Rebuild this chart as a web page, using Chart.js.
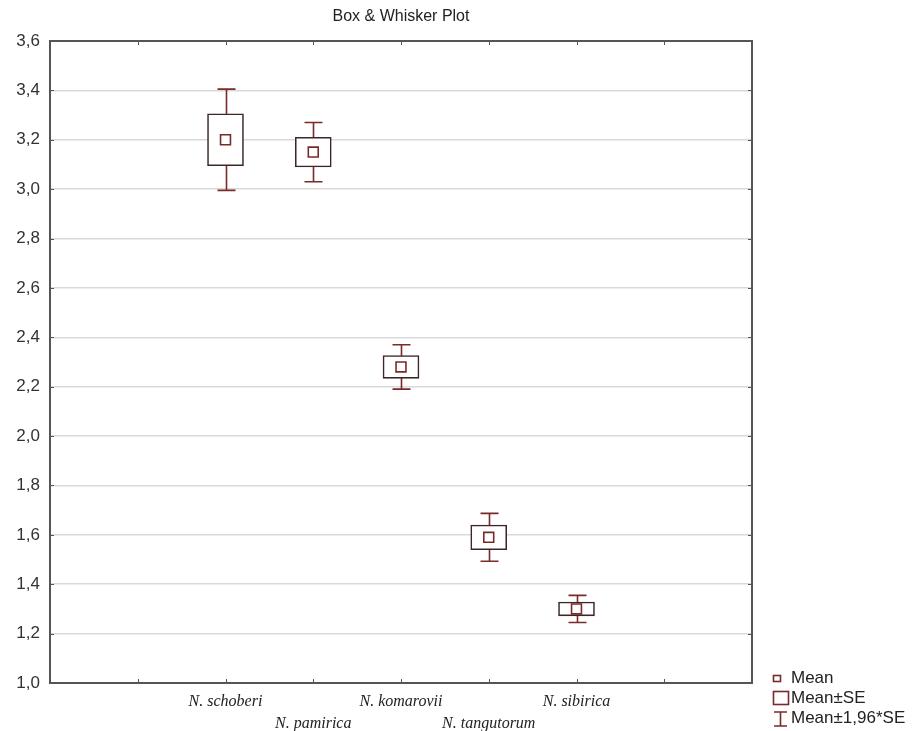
<!DOCTYPE html>
<html>
<head>
<meta charset="utf-8">
<script src="https://cdn.jsdelivr.net/npm/chart.js@4.4.1/dist/chart.umd.min.js"></script>
<style>
  html, body { margin: 0; padding: 0; background: #fff; }
  #wrap { width: 916px; height: 731px; }
</style>
</head>
<body>
<div id="wrap"><canvas id="chart" width="916" height="731"></canvas></div>
<script>
// species in plot order, placed at x = 2..6 on a 0..8 axis
const species = ['N. schoberi', 'N. pamirica', 'N. komarovii', 'N. tangutorum', 'N. sibirica'];
const positions = [2, 3, 4, 5, 6];

// values
const means = [3.20, 3.15, 2.28, 1.59, 1.30];
const se = [0.105, 0.060, 0.046, 0.050, 0.028];
const ci = [0.205, 0.120, 0.090, 0.097, 0.055]; // 1.96*SE

const yTicks = ['1,0', '1,2', '1,4', '1,6', '1,8', '2,0', '2,2', '2,4', '2,6', '2,8', '3,0', '3,2', '3,4', '3,6'];

const boxColor = '#3d2626';
const redColor = '#7b2a2a';

const boxData = positions.map((x, i) => ({ x: x, y: [means[i] - se[i], means[i] + se[i]] }));
const meanData = positions.map((x, i) => ({ x: x, y: means[i] }));

const framePlugin = {
    id: 'frame',
    beforeDatasetsDraw(chart) {
        // whiskers go under the white boxes
        const ctx = chart.ctx;
        const xs = chart.scales.x, ys = chart.scales.y;
        ctx.save();
        ctx.strokeStyle = redColor;
        ctx.lineWidth = 1.6;
        positions.forEach((p, i) => {
            const px = Math.round(xs.getPixelForValue(p)) + 0.5;
            const top = ys.getPixelForValue(means[i] + ci[i]);
            const bot = ys.getPixelForValue(means[i] - ci[i]);
            ctx.beginPath();
            ctx.moveTo(px, top); ctx.lineTo(px, bot);
            ctx.moveTo(px - 9, top); ctx.lineTo(px + 9, top);
            ctx.moveTo(px - 9, bot); ctx.lineTo(px + 9, bot);
            ctx.stroke();
        });
        ctx.restore();
    },
    afterDraw(chart) {
        const ctx = chart.ctx;
        const a = chart.chartArea;
        const xs = chart.scales.x, ys = chart.scales.y;
        ctx.save();
        // frame
        ctx.strokeStyle = '#555';
        ctx.lineWidth = 2;
        ctx.strokeRect(a.left, a.top, a.right - a.left, a.bottom - a.top);
        // inward tick marks
        ctx.lineWidth = 1;
        ctx.beginPath();
        for (let v = 1; v <= 7; v++) {
            const px = Math.round(xs.getPixelForValue(v)) + 0.5;
            ctx.moveTo(px, a.top); ctx.lineTo(px, a.top + 4);
            ctx.moveTo(px, a.bottom); ctx.lineTo(px, a.bottom - 4);
        }
        ys.ticks.forEach(t => {
            const py = Math.round(ys.getPixelForValue(t.value)) + 0.5;
            ctx.moveTo(a.left, py); ctx.lineTo(a.left + 4, py);
            ctx.moveTo(a.right, py); ctx.lineTo(a.right - 4, py);
        });
        ctx.stroke();

        // title
        ctx.fillStyle = '#222';
        ctx.font = '16px "Liberation Sans", Arial, sans-serif';
        ctx.textAlign = 'center';
        ctx.textBaseline = 'middle';
        ctx.fillText('Box & Whisker Plot', (a.left + a.right) / 2, 17);

        // legend
        ctx.font = '17px "Liberation Sans", Arial, sans-serif';
        ctx.textAlign = 'left';
        ctx.fillStyle = '#222';
        ctx.fillText('Mean', 791, 678);
        ctx.fillText('Mean\u00b1SE', 791, 698);
        ctx.fillText('Mean\u00b11,96*SE', 791, 718);
        ctx.strokeStyle = redColor;
        ctx.lineWidth = 1.6;
        ctx.strokeRect(773.5, 675.5, 7, 6);
        ctx.strokeRect(773.5, 691.5, 15, 13);
        ctx.beginPath();
        ctx.moveTo(780.5, 712); ctx.lineTo(780.5, 726);
        ctx.moveTo(774, 712); ctx.lineTo(787, 712);
        ctx.moveTo(774, 726); ctx.lineTo(787, 726);
        ctx.stroke();
        ctx.restore();
    }
};

new Chart(document.getElementById('chart'), {
    type: 'scatter',
    data: {
        datasets: [
            {
                type: 'scatter',
                label: 'Mean',
                data: meanData,
                pointStyle: 'rect',
                pointRadius: 7,
                pointHoverRadius: 7,
                pointBackgroundColor: '#fff',
                pointBorderColor: redColor,
                pointBorderWidth: 1.6
            },
            {
                type: 'bar',
                label: 'Mean\u00b1SE',
                data: boxData,
                barThickness: 36,
                backgroundColor: '#fff',
                borderColor: boxColor,
                borderWidth: 1.6,
                borderSkipped: false
            }
        ]
    },
    options: {
        responsive: false,
        animation: false,
        layout: { padding: { top: 41, right: 164, left: 0, bottom: 0 } },
        plugins: {
            legend: { display: false },
            title: { display: false },
            tooltip: { enabled: false }
        },
        scales: {
            x: {
                type: 'linear',
                min: 0,
                max: 8,
                offset: false,
                grid: { display: false, offset: false, drawTicks: false },
                border: { display: false },
                afterFit(scale) { scale.height = 48; },
                afterBuildTicks(scale) {
                    scale.ticks = positions.map(v => ({ value: v }));
                },
                ticks: {
                    autoSkip: false,
                    maxRotation: 0,
                    padding: 8,
                    color: '#222',
                    font: { family: '"Liberation Serif", "Times New Roman", serif', style: 'italic', size: 16, lineHeight: 1.35 },
                    callback(v) {
                        const i = positions.indexOf(v);
                        if (i < 0) return '';
                        return i % 2 === 0 ? species[i] : ['', species[i]];
                    }
                }
            },
            y: {
                type: 'linear',
                min: 1.0,
                max: 3.6,
                beginAtZero: false,
                grid: { color: '#d9d9d9', lineWidth: 1.5, drawTicks: false },
                border: { display: false },
                afterFit(scale) { scale.width = 50; },
                ticks: {
                    stepSize: 0.2,
                    padding: 10,
                    color: '#333',
                    font: { family: '"Liberation Sans", Arial, sans-serif', size: 17 },
                    callback(v, idx) { return yTicks[idx]; }
                }
            }
        }
    },
    plugins: [framePlugin]
});
</script>
</body>
</html>
